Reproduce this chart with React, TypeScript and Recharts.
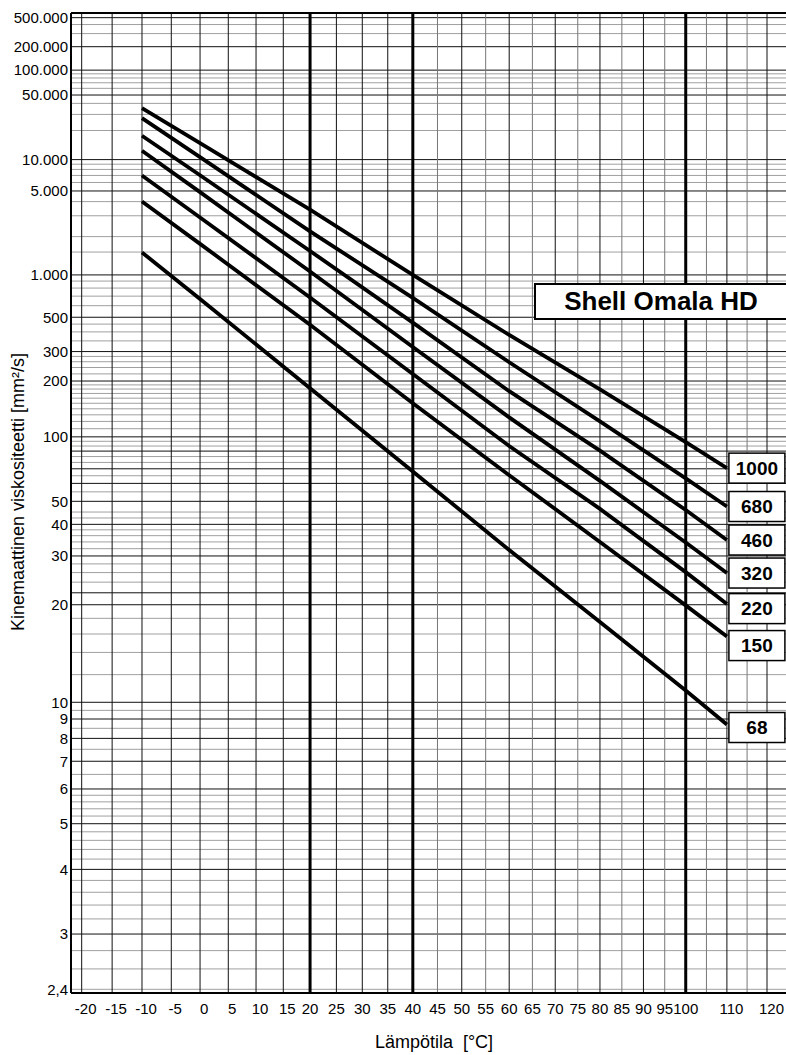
import { CartesianGrid, LabelList, Line, LineChart, XAxis, YAxis } from "recharts";

// viscosity (mm²/s) at these temperatures (°C)
const TEMPS = [-10, 0, 20, 40, 60, 80, 100, 110];
const VG1000 = [35400, 14700, 3390, 1000, 382, 179, 94.1, 70.5];
const VG680 = [27300, 10600, 2210, 680, 258, 120, 63.2, 47.5];
const VG460 = [17600, 7030, 1530, 460, 175, 85.4, 45.9, 34.6];
const VG320 = [12300, 4880, 1060, 320, 126, 61.6, 33.8, 25.9];
const VG220 = [7000, 2900, 685, 220, 90, 46.4, 26.1, 20.1];
const VG150 = [4010, 1745, 445, 150, 65.4, 34.0, 19.9, 15.7];
const VG68 = [1490, 668, 182, 68, 31.6, 17.5, 10.8, 8.7];

const Y_TICKS = [2.4, 3, 4, 5, 6, 7, 8, 9, 10, 20, 30, 40, 50, 100, 200, 300, 500, 1000, 5000, 10000, 50000, 100000, 200000, 500000];
const Y_TICK_LABELS = ["2,4", "3", "4", "5", "6", "7", "8", "9", "10", "20", "30", "40", "50", "100", "200", "300", "500", "1.000", "5.000", "10.000", "50.000", "100.000", "200.000", "500.000"];
const X_TICKS = [-20, -15, -10, -5, 0, 5, 10, 15, 20, 25, 30, 35, 40, 45, 50, 55, 60, 65, 70, 75, 80, 85, 90, 95, 100, 110, 120];

const GRID_Y_MAJOR = [3, 4, 5, 6, 7, 8, 9, 10, 20, 22, 30, 40, 50, 60, 70, 85, 100, 200, 300, 500, 1000, 5000, 10000, 50000, 100000, 200000, 500000];
const GRID_Y_MINOR = [
  2.4, 2.6, 2.8, 3.2, 3.4, 3.6, 3.8, 4.2, 4.4, 4.6, 4.8, 5.2, 5.4, 5.6, 5.8, 6.5, 7.5, 8.5, 9.5,
  12, 14, 16, 18, 24, 26, 28, 32, 34, 36, 38, 42.5, 45, 55, 65, 75, 80, 90, 95,
  110, 120, 130, 140, 150, 160, 170, 180, 190, 220, 240, 260, 280, 350, 400, 450,
  600, 700, 800, 900, 1500, 2000, 3000, 4000, 6000, 7000, 8000, 9000,
  20000, 30000, 40000, 60000, 70000, 80000, 90000, 300000, 400000,
];
const GRID_X_DARK = [-20, -15, -10, -5, 0, 5, 10, 15, 25, 30, 35, 50, 60, 70, 80, 90, 110, 120];
const GRID_X_LIGHT = [45, 55, 65, 75, 85, 95, 105, 115, 125];
const GRID_X_THICK = [20, 40, 100];

const FONT = "'Liberation Sans', Arial, sans-serif";

// DIN 51563 chart: lg lg (v + 0.8) against lg T(K)
const W = (v: number) => Math.log10(Math.log10(v + 0.8));
const L = (t: number) => Math.log10(t + 273.15);

const X_DOMAIN = [L(-21.73), L(125.08)];
const Y_DOMAIN = [W(2.366), W(583000)];

const SERIES = [
  { key: "g1000", grade: "1000", values: VG1000, labelDy: 0 },
  { key: "g680", grade: "680", values: VG680, labelDy: 0 },
  { key: "g460", grade: "460", values: VG460, labelDy: 0 },
  { key: "g320", grade: "320", values: VG320, labelDy: 0 },
  { key: "g220", grade: "220", values: VG220, labelDy: 4.5 },
  { key: "g150", grade: "150", values: VG150, labelDy: 9 },
  { key: "g68", grade: "68", values: VG68, labelDy: 3 },
];

const chartData = TEMPS.map((t, i) => {
  const row: any = { x: L(t) };
  SERIES.forEach((s) => {
    row[s.key] = W(s.values[i]);
  });
  return row;
});

const makeEndLabel = (grade: string, dy: number) => (props: any) => {
  const { x, y, index } = props;
  if (index !== TEMPS.length - 1) return null;
  const cy = y + dy;
  return (
    <g>
      <rect x={x + 2} y={cy - 15} width={56} height={30} fill="#fff" stroke="#000" strokeWidth={1.5} />
      <text
        x={x + 30}
        y={cy}
        textAnchor="middle"
        dominantBaseline="central"
        fontFamily={FONT}
        fontWeight="bold"
        fontSize={19}
        fill="#000"
      >
        {grade}
      </text>
    </g>
  );
};

// labels left of 20 °C and right of 100 °C sit a little to the right of their lines
const XTick = (props: any) => {
  const { x, y, index } = props;
  const t = X_TICKS[index];
  const dx = t < 20 ? 4 : t > 100 ? 4.5 : 0;
  return (
    <text x={x + dx} y={y} dy="0.71em" textAnchor="middle" fontFamily={FONT} fontSize={15} fill="#000">
      {String(t)}
    </text>
  );
};

const yTitle = () => (
  <text
    x={18}
    y={492}
    transform="rotate(-90 18 492)"
    textAnchor="middle"
    dominantBaseline="central"
    fontFamily={FONT}
    fontSize={18}
    fill="#000"
  >
    Kinemaattinen viskositeetti [mm²/s]
  </text>
);

const xTitle = () => (
  <text x={434} y={1042} textAnchor="middle" dominantBaseline="central" fontFamily={FONT} fontSize={18} fill="#000">
    Lämpötila&#160;&#160;[°C]
  </text>
);

export default function App() {
  return (
    <div style={{ position: "absolute", left: 0, top: 0, width: 786, height: 1055, overflow: "hidden", background: "#fff" }}>
      <LineChart width={800} height={1055} data={chartData} margin={{ top: 13, right: 13, bottom: 0, left: 0 }}>
        <CartesianGrid vertical={false} horizontalValues={GRID_Y_MINOR.map(W)} stroke="#a0a0a0" strokeWidth={1} />
        <CartesianGrid vertical={false} horizontalValues={GRID_Y_MAJOR.map(W)} stroke="#111" strokeWidth={1} />
        <CartesianGrid horizontal={false} verticalValues={GRID_X_LIGHT.map(L)} stroke="#777" strokeWidth={1} />
        <CartesianGrid horizontal={false} verticalValues={GRID_X_DARK.map(L)} stroke="#111" strokeWidth={1} />
        <CartesianGrid horizontal={false} verticalValues={GRID_X_THICK.map(L)} stroke="#000" strokeWidth={3} />
        <CartesianGrid horizontalValues={[Y_DOMAIN[1]]} verticalValues={[X_DOMAIN[1]]} stroke="#000" strokeWidth={2} />
        <XAxis
          type="number"
          dataKey="x"
          domain={X_DOMAIN}
          allowDataOverflow
          ticks={X_TICKS.map(L)}
          interval={0}
          tickSize={0}
          tickMargin={10}
          tickLine={false}
          axisLine={{ stroke: "#000", strokeWidth: 2 }}
          tick={<XTick />}
          height={62}
          label={xTitle}
        />
        <YAxis
          type="number"
          domain={Y_DOMAIN}
          allowDataOverflow
          ticks={Y_TICKS.map(W)}
          interval={0}
          tickFormatter={(_v: number, i: number) => Y_TICK_LABELS[i]}
          tickSize={0}
          tickMargin={3}
          tickLine={false}
          axisLine={{ stroke: "#000", strokeWidth: 2 }}
          tick={{ fontSize: 15, fill: "#000", fontFamily: FONT }}
          width={71}
          label={yTitle}
        />
        {SERIES.map((s) => (
          <Line
            key={s.key}
            type="linear"
            dataKey={s.key}
            stroke="#000"
            strokeWidth={3.8}
            dot={false}
            isAnimationActive={false}
          >
            <LabelList dataKey={s.key} content={makeEndLabel(s.grade, s.labelDy)} />
          </Line>
        ))}
      </LineChart>
      <div
        style={{
          position: "absolute",
          left: 534,
          top: 283,
          width: 254,
          height: 37,
          boxSizing: "border-box",
          border: "2px solid #000",
          background: "#fff",
          fontFamily: FONT,
          fontWeight: "bold",
          fontSize: 26,
          lineHeight: "33px",
          textAlign: "center",
          color: "#000",
        }}
      >
        Shell Omala HD
      </div>
    </div>
  );
}
